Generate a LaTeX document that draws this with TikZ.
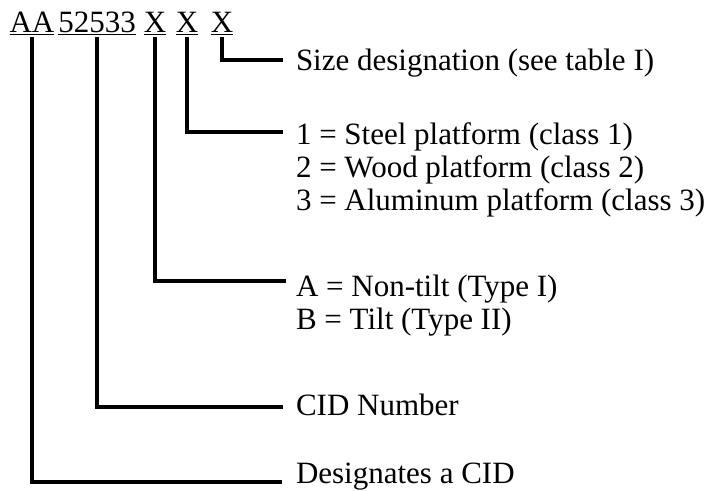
\documentclass[tikz,border=0pt]{standalone}
\usepackage{fontspec}
\setmainfont{Liberation Serif}
\begin{document}
\begin{tikzpicture}[x=1bp,y=-1bp,
  tok/.style={inner sep=0pt,outer sep=0pt,anchor=base,font=\fontsize{31bp}{33bp}\selectfont},
  lbl/.style={inner sep=0pt,outer sep=0pt,anchor=base west,font=\fontsize{31bp}{33bp}\selectfont},
  conn/.style={line width=3.2bp},
  uline/.style={line width=1bp}]
\useasboundingbox (0,0) rectangle (712,491);
% code tokens
\node[tok] (aa) at (32,33) {AA};
\node[tok] (cid) at (97,33) {52533};
\node[tok] (x1) at (155,33) {X};
\node[tok] (x2) at (187,33) {X};
\node[tok] (x3) at (222,33) {X};
\foreach \t in {aa,cid,x1,x2,x3}{
  \draw[uline] ([yshift=-2bp]\t.base west) -- ([yshift=-2bp]\t.base east);
}
% labels
\node[lbl] (size) at (296,71) {Size designation (see table I)};
\node[lbl] (steel) at (296,145) {1 = Steel platform (class 1)};
\node[lbl] (wood) at (296,178) {2 = Wood platform (class 2)};
\node[lbl] (alu) at (296,211) {3 = Aluminum platform (class 3)};
\node[lbl] (nontilt) at (296,296) {A = Non-tilt (Type I)};
\node[lbl] (tilt) at (296,329) {B = Tilt (Type II)};
\node[lbl] (cidn) at (296,415) {CID Number};
\node[lbl] (desig) at (296,483) {Designates a CID};
% line ends
\coordinate (e3) at (283,60);
\coordinate (e2) at (283,132);
\coordinate (e1) at (286,281);
\coordinate (ec) at (283,407);
\coordinate (ea) at (282,482);
% connectors
\draw[conn] ([yshift=-4bp]x3.base) |- (e3);
\draw[conn] ([yshift=-4bp]x2.base) |- (e2);
\draw[conn] ([yshift=-4bp]x1.base) |- (e1);
\draw[conn] ([yshift=-4bp]cid.base) |- (ec);
\draw[conn] ([yshift=-4bp]aa.base) |- (ea);
\end{tikzpicture}
\end{document}
